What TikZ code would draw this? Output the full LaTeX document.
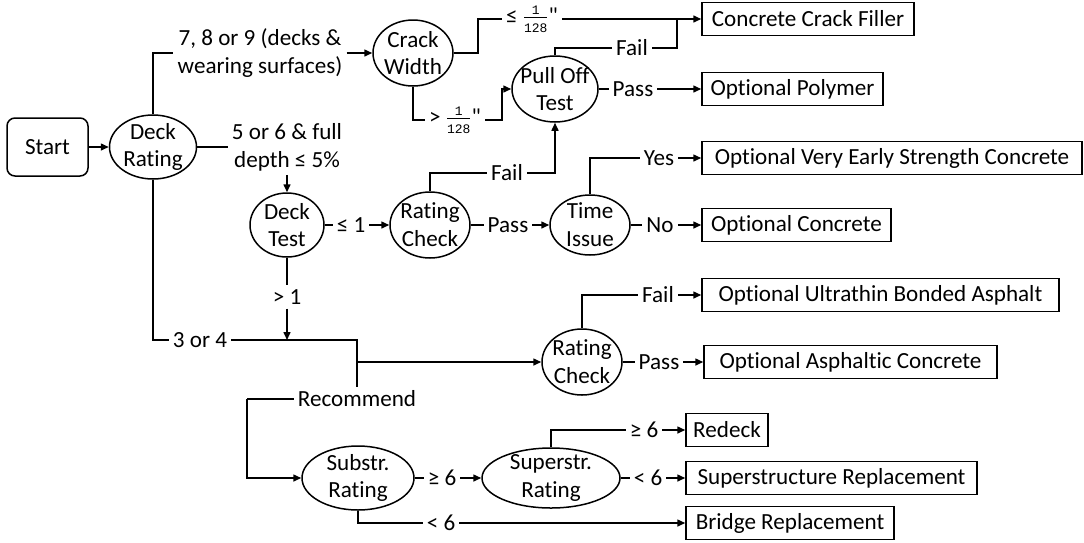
\documentclass[tikz,border=0pt]{standalone}
\usepackage{fontspec}
\setmainfont{Carlito}[Ligatures={TeX,NoCommon}]
\newfontfamily\fracfont{Liberation Mono}
\newfontfamily\qfont{Carlito}
\usetikzlibrary{arrows.meta,shapes.geometric}
\newcommand{\myfrac}{$\hbox{\fontsize{13}{13}\fracfont 1}\above 1pt\hbox{\fontsize{13}{13}\fracfont 128}$}
\newcommand{\inchmark}{{\qfont"}}
\begin{document}
\begin{tikzpicture}[x=1pt,y=-1pt,
  base/.style={font=\fontsize{23.1}{27.8}\selectfont},
  dec/.style 2 args={ellipse, draw, line width=1.5pt, minimum width=#1, minimum height=#2, inner sep=0pt},
  txt/.style={base, align=center, inner sep=0pt},
  res/.style={base, draw, rectangle, line width=1.5pt, minimum height=33, minimum width=#1, inner sep=0pt},
  lab/.style={base, align=center, inner sep=4pt},
  conn/.style={line width=1.5pt},
  arr/.style={conn, -{Triangle[length=8pt,width=7pt]}}]
\path[use as bounding box] (0,0) rectangle (1084,542);

% start and decisions
\node[base, draw, line width=1.5pt, rounded corners=8pt, minimum width=81, minimum height=58, inner sep=0pt] (st) at (47.5,147) {Start};
\node[dec={87}{64}] (dr) at (153,147) {};
\node[txt] (dr-t) at (dr) {Deck\\Rating};
\node[dec={80}{66}] (cw) at (413,53) {};
\node[txt] (cw-t) at (cw) {Crack\\Width};
\node[dec={86}{66}] (pot) at (555,89) {};
\node[txt] (pot-t) at (pot) {Pull Off\\Test};
\node[dec={74}{64}] (dt) at (287,225) {};
\node[txt] (dt-t) at (dt) {Deck\\Test};
\node[dec={80}{66}] (rc1) at (430,225) {};
\node[txt] (rc1-t) at (rc1) {Rating\\Check};
\node[dec={80}{60}] (ti) at (590,225) {};
\node[txt] (ti-t) at (ti) {Time\\Issue};
\node[dec={80}{66}] (rc2) at (582,362) {};
\node[txt] (rc2-t) at (rc2) {Rating\\Check};
\node[dec={112}{64}] (sub) at (358,478) {};
\node[txt] (sub-t) at (sub) {Substr.\\Rating};
\node[dec={138}{60}] (sup) at (551,478) {};
\node[txt] (sup-t) at (sup) {Superstr.\\Rating};

% results
\node[res=212] (ccf) at (808,19) {Concrete Crack Filler};
\node[res=181] (op) at (792.5,89) {Optional Polymer};
\node[res=380] (ves) at (892,158) {Optional Very Early Strength Concrete};
\node[res=189] (oc) at (796.5,225) {Optional Concrete};
\node[res=357] (ub) at (880.5,295) {Optional Ultrathin Bonded Asphalt};
\node[res=293] (ac) at (850.5,362) {Optional Asphaltic Concrete};
\node[res=82] (rd) at (727,430) {Redeck};
\node[res=291] (sr) at (831.5,478) {Superstructure Replacement};
\node[res=208] (br) at (790,523) {Bridge Replacement};

% labels
\node[lab] (l789) at (260,53) {7, 8 or 9 (decks \&\\wearing surfaces)};
\node[lab] (l56) at (287,147) {5 or 6 \& full\\depth ≤ 5\%};
\node[lab] (le) at (532,19) {≤ \myfrac\inchmark};
\node[lab] (gt) at (455,120) {> \myfrac\inchmark};
\node[lab] (pf) at (632,48) {Fail};
\node[lab] (pp) at (633,89) {Pass};
\node[lab] (f1) at (507,173) {Fail};
\node[lab] (p1) at (508,225) {Pass};
\node[lab] (yes) at (659,158) {Yes};
\node[lab] (no) at (660,225) {No};
\node[lab] (l1) at (351,225) {≤ 1};
\node[lab] (lg1) at (287,297) {> 1};
\node[lab] (l34) at (200,340) {3 or 4};
\node[lab] (rec) at (357,399) {Recommend};
\node[lab] (f2) at (658,295) {Fail};
\node[lab] (p2) at (659,362) {Pass};
\node[lab] (ge6a) at (442,478) {≥ 6};
\node[lab] (lt6b) at (441,523) {< 6};
\node[lab] (ge6b) at (644,430) {≥ 6};
\node[lab] (lt6a) at (648,478) {< 6};

\coordinate (j1) at (287,340);
\coordinate (j2) at (357,340);
\coordinate (jb) at (357,362);
\coordinate (rl) at (247,399);
\coordinate (jn) at (677,19);

% connectors
\draw[arr] (st) -- (dr);
\draw[conn] (dr.north) |- (l789.west);
\draw[arr] (l789.east) -- (cw.west);
\draw[conn] (dr.east) -- (l56.west);
\draw[arr] (l56.south) -- (dt.north);
\draw[conn] (dr.south) |- (l34.west);
\draw[conn] (l34.east) -- (j2) -- (rec.north);
\draw[arr] (jb) -- (rc2.west);
\draw[conn] (dt.south) -- (lg1.north);
\draw[arr] (lg1.south) -- (j1);
\draw[conn] (dt.east) -- (l1.west);
\draw[arr] (l1.east) -- (rc1.west);

\draw[conn] (cw.east) -- ++(24,0) |- (le.west);
\draw[arr] (le.east) -- (ccf.west);
\draw[conn] (cw.south) |- (gt.west);
\draw[arr] (gt.east) -- ++(17,0) |- (pot.west);
\draw[conn] (pot.north) |- (pf.west);
\draw[conn] (pf.east) -| (jn);
\draw[conn] (pot.east) -- (pp.west);
\draw[arr] (pp.east) -- (op.west);

\draw[conn] (rc1.north) |- (f1.west);
\draw[arr] (f1.east) -| (pot.south);
\draw[conn] (rc1.east) -- (p1.west);
\draw[arr] (p1.east) -- (ti.west);
\draw[conn] (ti.north) |- (yes.west);
\draw[arr] (yes.east) -- (ves.west);
\draw[conn] (ti.east) -- (no.west);
\draw[arr] (no.east) -- (oc.west);

\draw[conn] (rc2.north) |- (f2.west);
\draw[arr] (f2.east) -- (ub.west);
\draw[conn] (rc2.east) -- (p2.west);
\draw[arr] (p2.east) -- (ac.west);

\draw[conn] (rec.west) -- (rl);
\draw[arr] (rl) |- (sub.west);
\draw[conn] (sub.east) -- (ge6a.west);
\draw[arr] (ge6a.east) -- (sup.west);
\draw[conn] (sub.south) |- (lt6b.west);
\draw[arr] (lt6b.east) -- (br.west);
\draw[conn] (sup.north) |- (ge6b.west);
\draw[arr] (ge6b.east) -- (rd.west);
\draw[conn] (sup.east) -- (lt6a.west);
\draw[arr] (lt6a.east) -- (sr.west);
\end{tikzpicture}
\end{document}
